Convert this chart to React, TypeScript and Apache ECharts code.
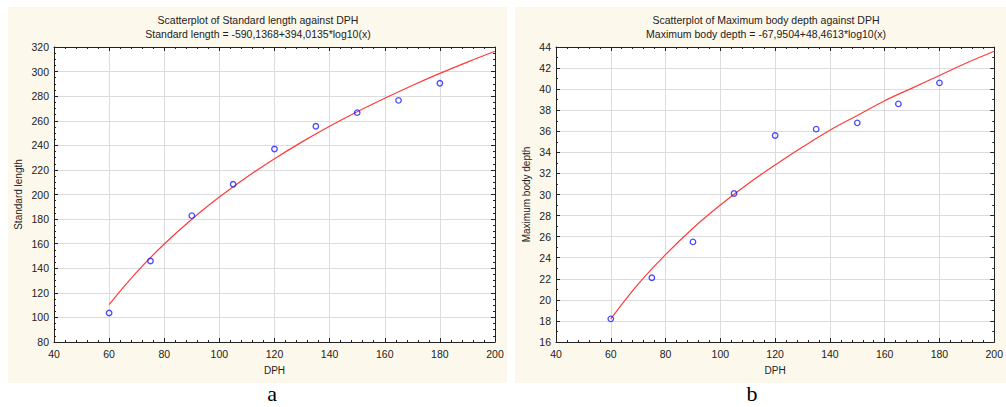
import React, { useEffect, useRef } from "react";
import * as echarts from "echarts";

// ---- data ----
const dphPoints = [60, 75, 90, 105, 120, 135, 150, 165, 180];
const standardLength = [103.6, 145.9, 182.8, 208.3, 237.0, 255.5, 266.6, 276.6, 290.5];
const bodyDepth = [18.2, 22.1, 25.5, 30.1, 35.6, 36.2, 36.8, 38.6, 40.6];

// fitted curves
const fitDph = [60, 70, 80, 90, 100, 110, 120, 130, 140, 150, 160, 170, 180, 190, 200];
const standardLengthFit = [110.5, 136.9, 159.7, 179.9, 197.9, 214.2, 229.1, 242.8, 255.5, 267.3, 278.3, 288.7, 298.5, 307.7, 316.5];
const bodyDepthFit = [18.2, 21.5, 24.3, 26.8, 29.0, 31.0, 32.8, 34.5, 36.1, 37.5, 38.9, 40.1, 41.3, 42.5, 43.6];

// axis ranges
const xRange = { min: 40, max: 200, interval: 20 };
const yRangeA = { min: 80, max: 320, interval: 20 };
const yRangeB = { min: 16, max: 44, interval: 2 };

const titlesA = ["Scatterplot of Standard length against DPH", "Standard length = -590,1368+394,0135*log10(x)"];
const titlesB = ["Scatterplot of Maximum body depth against DPH", "Maximum body depth = -67,9504+48,4613*log10(x)"];
const yNameA = "Standard length";
const yNameB = "Maximum body depth";
const xName = "DPH";
const panelLabels = ["a", "b"];

const FONT = "Arial, 'Liberation Sans', sans-serif";
const INK = "#222";

function pairs(xs: number[], ys: number[]) {
  return xs.map((x, i) => [x, ys[i]]);
}

function primaryX(gridIndex: number) {
  return {
    type: "value",
    gridIndex,
    position: "bottom",
    ...xRange,
    name: xName,
    nameLocation: "middle",
    nameGap: 23,
    nameTextStyle: { fontSize: 10, color: INK, fontFamily: FONT },
    axisLine: { show: true, onZero: false, lineStyle: { color: INK, width: 1 } },
    axisTick: { show: true, inside: true, length: 4, lineStyle: { color: INK } },
    minorTick: { show: true, splitNumber: 5, length: 2, lineStyle: { color: INK } },
    axisLabel: { fontSize: 10.5, color: INK, fontFamily: FONT, margin: 6 },
    splitLine: { show: true, lineStyle: { color: "#dcdcdc", width: 1 } },
  };
}
function secondaryX(gridIndex: number) {
  return {
    type: "value",
    gridIndex,
    position: "top",
    ...xRange,
    axisLine: { show: true, onZero: false, lineStyle: { color: INK, width: 1 } },
    axisTick: { show: true, inside: true, length: 4, lineStyle: { color: INK } },
    minorTick: { show: true, splitNumber: 5, length: 2, lineStyle: { color: INK } },
    axisLabel: { show: false },
    splitLine: { show: false },
  };
}
function primaryY(gridIndex: number, range: any, name: string, gap: number, minorSplit: number) {
  return {
    type: "value",
    gridIndex,
    position: "left",
    ...range,
    name,
    nameLocation: "middle",
    nameGap: gap,
    nameTextStyle: { fontSize: 10, color: INK, fontFamily: FONT },
    axisLine: { show: true, onZero: false, lineStyle: { color: INK, width: 1 } },
    axisTick: { show: true, inside: true, length: 4, lineStyle: { color: INK } },
    minorTick: { show: true, splitNumber: minorSplit, length: 2, lineStyle: { color: INK } },
    axisLabel: { fontSize: 10.5, color: INK, fontFamily: FONT, margin: 5 },
    splitLine: { show: true, lineStyle: { color: "#dcdcdc", width: 1 } },
  };
}
function secondaryY(gridIndex: number, range: any, minorSplit: number) {
  return {
    type: "value",
    gridIndex,
    position: "right",
    ...range,
    axisLine: { show: true, onZero: false, lineStyle: { color: INK, width: 1 } },
    axisTick: { show: true, inside: true, length: 4, lineStyle: { color: INK } },
    minorTick: { show: true, splitNumber: minorSplit, length: 2, lineStyle: { color: INK } },
    axisLabel: { show: false },
    splitLine: { show: false },
  };
}

function titleTexts(cx: number, lines: string[]) {
  return lines.map((t, i) => ({
    type: "text",
    z: 10,
    x: cx,
    y: 20 + i * 14,
    style: {
      text: t,
      fill: INK,
      fontSize: 10.5,
      fontFamily: FONT,
      align: "center",
      verticalAlign: "middle",
    },
  }));
}

export default function App() {
  const ref = useRef<HTMLDivElement>(null);
  useEffect(() => {
    if (!ref.current) return;
    const chart = echarts.init(ref.current, undefined, { renderer: "svg" });
    const option: any = {
      animation: false,
      backgroundColor: "#ffffff",
      grid: [
        { left: 54, top: 47, width: 441, height: 295, show: true, backgroundColor: "#ffffff", borderWidth: 0 },
        { left: 556, top: 47, width: 446, height: 295, show: true, backgroundColor: "#ffffff", borderWidth: 0 },
      ],
      xAxis: [primaryX(0), secondaryX(0), primaryX(1), secondaryX(1)],
      yAxis: [
        primaryY(0, yRangeA, yNameA, 31, 4),
        secondaryY(0, yRangeA, 4),
        primaryY(1, yRangeB, yNameB, 25, 2),
        secondaryY(1, yRangeB, 2),
      ],
      series: [
        {
          type: "line",
          xAxisIndex: 0,
          yAxisIndex: 0,
          data: pairs(fitDph, standardLengthFit),
          smooth: 0.4,
          showSymbol: false,
          lineStyle: { color: "#ff3b3b", width: 1.2 },
          z: 3,
        },
        {
          type: "scatter",
          xAxisIndex: 0,
          yAxisIndex: 0,
          data: pairs(dphPoints, standardLength),
          symbol: "circle",
          symbolSize: 5.5,
          itemStyle: { color: "rgba(0,0,0,0)", borderColor: "#1a1aff", borderWidth: 1.3 },
          z: 4,
        },
        {
          type: "line",
          xAxisIndex: 2,
          yAxisIndex: 2,
          data: pairs(fitDph, bodyDepthFit),
          smooth: 0.4,
          showSymbol: false,
          lineStyle: { color: "#ff3b3b", width: 1.2 },
          z: 3,
        },
        {
          type: "scatter",
          xAxisIndex: 2,
          yAxisIndex: 2,
          data: pairs(dphPoints, bodyDepth),
          symbol: "circle",
          symbolSize: 5.5,
          itemStyle: { color: "rgba(0,0,0,0)", borderColor: "#1a1aff", borderWidth: 1.3 },
          z: 4,
        },
      ],
      graphic: [
        { type: "rect", z: -10, shape: { x: 8, y: 7, width: 499, height: 376 }, style: { fill: "#fdf8ec" } },
        { type: "rect", z: -10, shape: { x: 515, y: 7, width: 491, height: 376 }, style: { fill: "#fdf8ec" } },
        ...titleTexts(258, titlesA),
        ...titleTexts(766, titlesB),
        {
          type: "text",
          z: 10,
          x: 272,
          y: 404,
          style: { text: panelLabels[0], fill: "#000", fontSize: 22, fontFamily: "'Liberation Serif', 'Times New Roman', serif", align: "center", verticalAlign: "bottom" },
        },
        {
          type: "text",
          z: 10,
          x: 752,
          y: 404,
          style: { text: panelLabels[1], fill: "#000", fontSize: 22, fontFamily: "'Liberation Serif', 'Times New Roman', serif", align: "center", verticalAlign: "bottom" },
        },
      ],
    };
    chart.setOption(option);
    return () => chart.dispose();
  }, []);
  return (
    <div
      ref={ref}
      style={{ position: "absolute", left: 0, top: 0, width: 1006, height: 407 }}
    />
  );
}
